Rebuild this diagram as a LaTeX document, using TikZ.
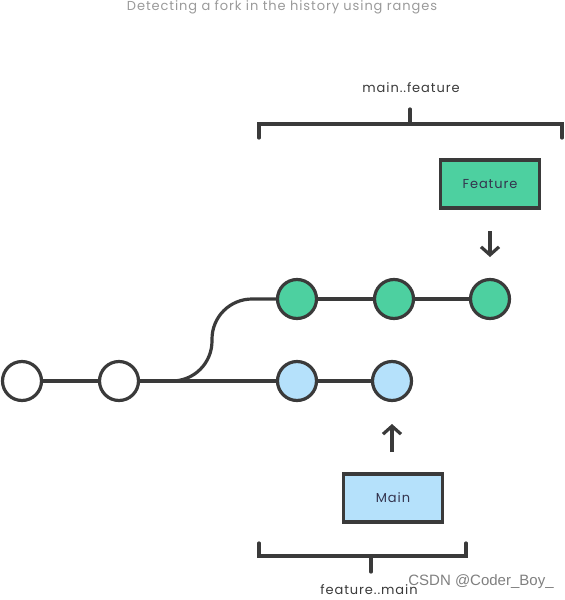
\documentclass[tikz,border=0pt]{standalone}
\usepackage{fontspec}
\setmainfont{Poppins}[LetterSpace=7]
\newfontfamily\wmfont{Liberation Sans}
\usetikzlibrary{arrows.meta}
\definecolor{ink}{HTML}{3A3A3A}
\definecolor{fgreen}{HTML}{4DD0A0}
\definecolor{mblue}{HTML}{B5E1FB}
\definecolor{ttl}{HTML}{9A9A9A}
\tikzset{
  commit/.style={circle, draw=ink, line width=3.2pt, minimum size=39pt, inner sep=0pt},
  edge/.style={draw=ink, line width=3.2pt},
  refbox/.style={rectangle, draw=ink, line width=3.2pt, minimum width=99pt, minimum height=48pt, font=\fontsize{13}{16}\selectfont, text=ink!90!blue},
  lbl/.style={font=\fontsize{13}{16}\selectfont, text=ink},
  ptr/.style={edge, -{Straight Barb[length=8pt, width=18pt, line width=3.2pt]}}
}
\begin{document}
\begin{tikzpicture}[x=1pt, y=-1pt]
\useasboundingbox (0,0) rectangle (565,600);
\node[font=\fontsize{13}{16}\selectfont, text=ttl] (title) at (282,7) {Detecting a fork in the history using ranges};

% commits
\node[commit, fill=white] (w1) at (22,381) {};
\node[commit, fill=white] (w2) at (119,381) {};
\node[commit, fill=fgreen] (g1) at (297,299) {};
\node[commit, fill=fgreen] (g2) at (394,299) {};
\node[commit, fill=fgreen] (g3) at (490,299) {};
\node[commit, fill=mblue] (b1) at (297,381) {};
\node[commit, fill=mblue] (b2) at (392,381) {};

\draw[edge] (w1) -- (w2);
\draw[edge] (w2) -- (b1);
\draw[edge] (b1) -- (b2);
\draw[edge] (g1) -- (g2);
\draw[edge] (g2) -- (g3);
\coordinate (c1) at (212,381);
\coordinate (c2) at (212,299);
\draw[edge, rounded corners=40pt] (w2.east) -- (c1) -- (c2) -- (g1.west);

% branch refs
\node[refbox, fill=fgreen] (feat) at (490,184) {Feature};
\node[refbox, fill=mblue] (main) at (393,498) {Main};
\coordinate (fa1) at (490,231);
\coordinate (fa2) at (490,257);
\draw[ptr] (fa1) -- (fa2);
\coordinate (ma1) at (392,452);
\coordinate (ma2) at (392,424);
\draw[ptr] (ma1) -- (ma2);

% top bracket
\coordinate (tl) at (259,138);
\coordinate (tr) at (562,138);
\coordinate (tm) at (410,124);
\coordinate (tt) at (410,109);
\draw[edge, line cap=round, line join=miter] (tl) -- ++(0,-14) -- ++(303,0) -- (tr);
\draw[edge, line cap=round] (tm) -- (tt);
\node[lbl] (rtop) at (411,88) {main..feature};

% bottom bracket
\coordinate (bl) at (259,543);
\coordinate (br) at (466,543);
\coordinate (bm) at (371,556);
\coordinate (bb) at (371,572);
\draw[edge, line cap=round, line join=miter] (bl) -- ++(0,13) -- ++(207,0) -- (br);
\draw[edge, line cap=round] (bm) -- (bb);
\node[lbl] (rbot) at (369,590) {feature..main};

% watermark
\node[font=\wmfont\fontsize{15}{17}\selectfont, text=ink!65] (wm) at (481,582) {CSDN @Coder\_Boy\_};
\end{tikzpicture}
\end{document}
